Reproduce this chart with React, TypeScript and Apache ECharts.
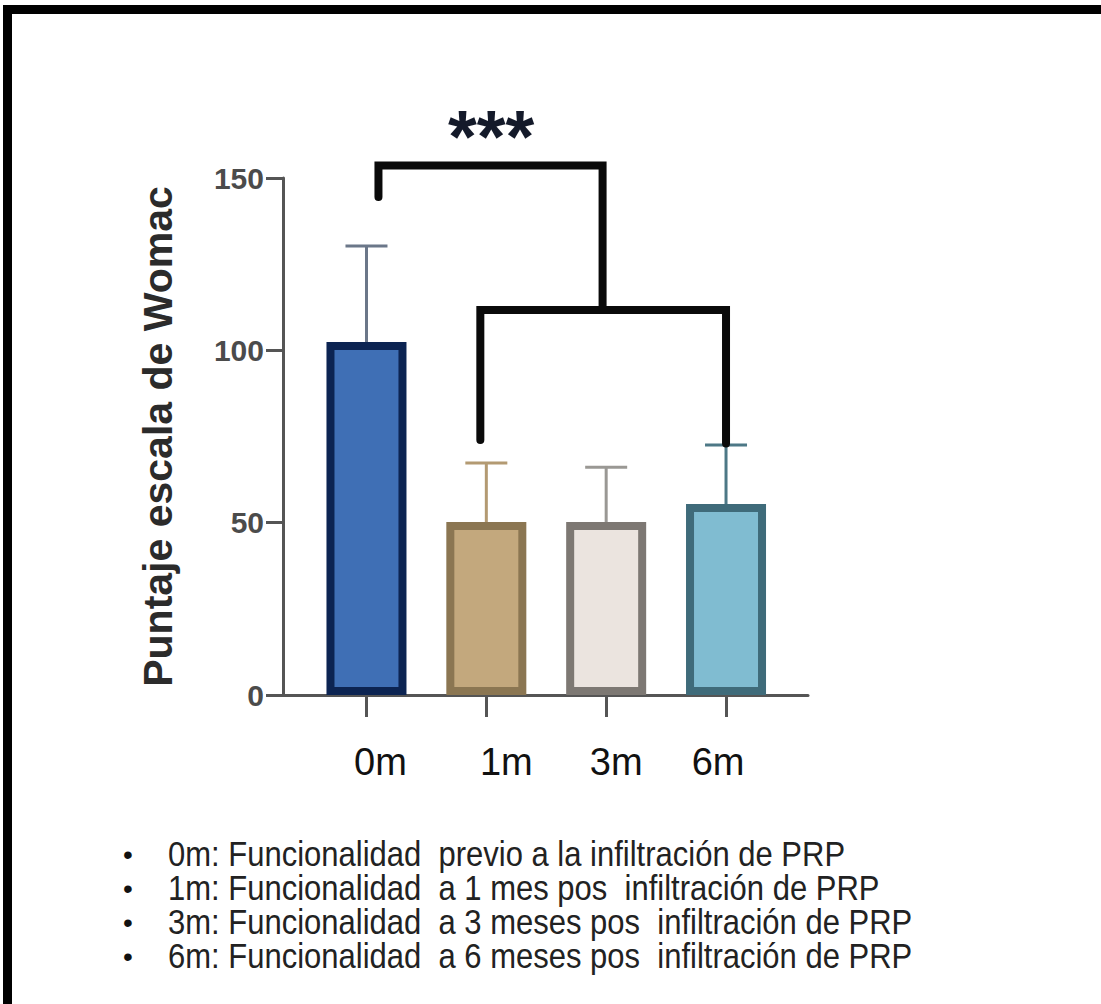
import React, { useEffect, useRef } from 'react';
import * as echarts from 'echarts';

// ---- data ----
const categories = ['0m', '1m', '3m', '6m'];
const means = [102.4, 50.2, 50.2, 55.4];
const sdUpper = [27.9, 17.1, 15.9, 17.1];
const yTicks = [0, 50, 100, 150];
const yAxisTitle = 'Puntaje escala de Womac';
const significance = '***';
// significance brackets, in data units [categoryPosition, score]
const bracketUpper = [[0.1, 144.5], [0.1, 153.6], [1.97, 153.6], [1.97, 111.7]];
const bracketLower = [[0.95, 74], [0.95, 111.7], [3.0, 111.7], [3.0, 73]];
const starsAt = [1.04, 162];
const legendLines = [
  '0m: Funcionalidad  previo a la infiltración de PRP',
  '1m: Funcionalidad  a 1 mes pos  infiltración de PRP',
  '3m: Funcionalidad  a 3 meses pos  infiltración de PRP',
  '6m: Funcionalidad  a 6 meses pos  infiltración de PRP',
];

// ---- styles ----
const fills = ['#3f6fb5', '#c3a87d', '#ebe4df', '#80bcd1'];
const borders = ['#0c2452', '#8b7652', '#7d7873', '#3f6b7a'];
const errColors = ['#6b7789', '#b39a72', '#9a9894', '#4d7886'];
const labelShift = [14, 20, 10, -8];
const FONT = '"Liberation Sans", Arial, sans-serif';

export default function App() {
  const ref = useRef<HTMLDivElement>(null);
  useEffect(() => {
    document.body.style.margin = '0';
    const chart = echarts.init(ref.current!, null, { renderer: 'svg' });
    const rich: Record<string, any> = {};
    labelShift.forEach((s, i) => {
      rich['s' + i] = {
        fontSize: 38,
        fontFamily: FONT,
        color: '#111',
        padding: s >= 0 ? [0, 0, 0, 2 * s] : [0, -2 * s, 0, 0],
      };
    });
    const option: any = {
      animation: false,
      backgroundColor: '#fff',
      grid: { left: 270, right: 293, top: 178, bottom: 309, containLabel: false },
      xAxis: {
        type: 'value',
        min: -0.805,
        max: 3.684,
        splitLine: { show: false },
        axisLine: { show: true, lineStyle: { color: '#555', width: 3 } },
        axisTick: {
          show: true,
          customValues: categories.map((_, i) => i),
          length: 22,
          lineStyle: { color: '#555', width: 3 },
        },
        axisLabel: {
          customValues: categories.map((_, i) => i),
          margin: 48,
          formatter: (v: number) => {
            const i = Math.round(v);
            return '{s' + i + '|' + categories[i] + '}';
          },
          rich,
        },
      },
      yAxis: {
        type: 'value',
        min: yTicks[0],
        max: yTicks[yTicks.length - 1],
        interval: yTicks[1] - yTicks[0],
        offset: -13,
        splitLine: { show: false },
        axisLine: { show: true, onZero: false, lineStyle: { color: '#555', width: 3 } },
        axisTick: { show: true, length: 17, lineStyle: { color: '#555', width: 3 } },
        axisLabel: {
          margin: 19,
          fontSize: 30,
          fontWeight: 'bold',
          fontFamily: FONT,
          color: '#4b4b4b',
        },
        name: yAxisTitle,
        nameLocation: 'middle',
        nameGap: 105,
        nameTextStyle: {
          fontSize: 41,
          fontWeight: 'bold',
          fontFamily: FONT,
          color: '#2b2b2b',
        },
      },
      series: [
        {
          type: 'custom',
          name: 'sd',
          z: 1,
          data: means.map((m, i) => [i, m, sdUpper[i]]),
          renderItem: (params: any, api: any) => {
            const i = api.value(0);
            const m = api.value(1);
            const s = api.value(2);
            const p0 = api.coord([i, m]);
            const p1 = api.coord([i, m + s]);
            const c = errColors[params.dataIndex];
            return {
              type: 'group',
              children: [
                { type: 'line', shape: { x1: p0[0], y1: p0[1], x2: p1[0], y2: p1[1] }, style: { stroke: c, lineWidth: 3 } },
                { type: 'line', shape: { x1: p1[0] - 21, y1: p1[1], x2: p1[0] + 21, y2: p1[1] }, style: { stroke: c, lineWidth: 3 } },
              ],
            };
          },
        },
        {
          type: 'bar',
          name: 'mean',
          z: 2,
          barWidth: 80,
          data: means.map((m, i) => ({
            value: [i, m],
            itemStyle: { color: fills[i], borderColor: borders[i], borderWidth: 8 },
          })),
        },
        {
          type: 'custom',
          name: 'significance',
          z: 3,
          data: [[0]],
          renderItem: (_params: any, api: any) => {
            const up = bracketUpper.map((p) => api.coord(p));
            const low = bracketLower.map((p) => api.coord(p));
            const st = api.coord(starsAt);
            const lineStyle = { stroke: '#0a0a0a', lineWidth: 8, fill: 'none', lineCap: 'round', lineJoin: 'miter' };
            return {
              type: 'group',
              children: [
                { type: 'polyline', shape: { points: up }, style: lineStyle },
                { type: 'polyline', shape: { points: low }, style: lineStyle },
                {
                  type: 'text',
                  x: st[0],
                  y: st[1],
                  style: {
                    text: significance,
                    fontSize: 74,
                    fontWeight: 'bold',
                    fontFamily: FONT,
                    fill: '#141a2a',
                    align: 'center',
                    verticalAlign: 'middle',
                  },
                },
              ],
            };
          },
        },
      ],
      graphic: [
        { type: 'rect', shape: { x: 3, y: 5, width: 9, height: 999 }, style: { fill: '#000' } },
        { type: 'rect', shape: { x: 3, y: 5, width: 1098, height: 9 }, style: { fill: '#000' } },
        ...legendLines.flatMap((t, k) => [
          {
            type: 'text',
            x: 128,
            y: 854 + 34 * k,
            style: { text: '•', fontSize: 28, fontFamily: FONT, fill: '#111', align: 'center', verticalAlign: 'middle' },
          },
          {
            type: 'text',
            x: 168,
            y: 854 + 34 * k,
            scaleY: 1.12,
            style: { text: t, fontSize: 31, fontFamily: FONT, fill: '#222', align: 'left', verticalAlign: 'middle' },
          },
        ]),
      ],
    };
    chart.setOption(option);
    return () => chart.dispose();
  }, []);
  return <div ref={ref} style={{ position: 'absolute', left: 0, top: 0, width: 1101, height: 1004 }} />;
}
